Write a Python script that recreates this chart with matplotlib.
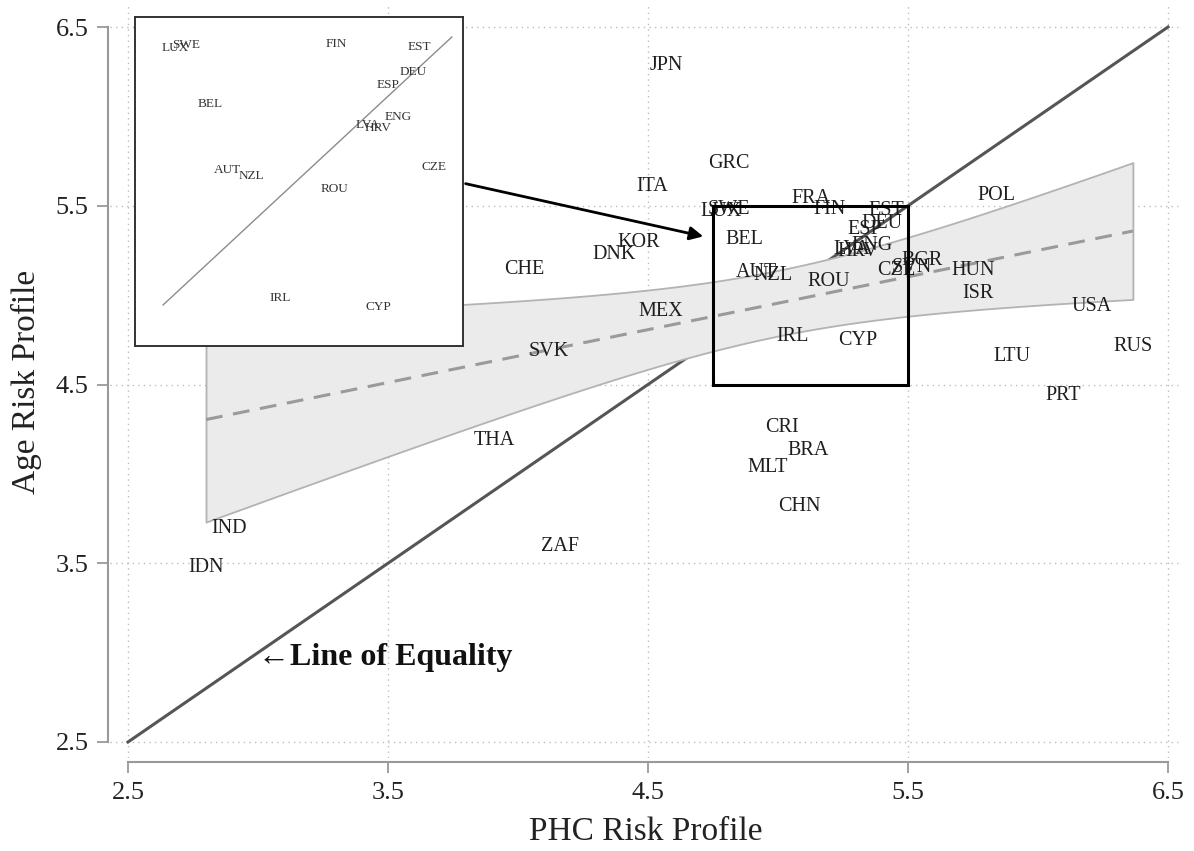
import numpy as np
import matplotlib
matplotlib.use("Agg")
import matplotlib.pyplot as plt
from matplotlib.patches import Rectangle

plt.rcParams['font.family'] = ['Liberation Serif', 'DejaVu Serif']

# country codes and (PHC risk, Age risk)
countries = ["JPN", "GRC", "ITA", "FRA", "FIN", "EST", "LUX", "SWE", "POL", "ESP",
             "DEU", "BEL", "KOR", "DNK", "ENG", "LVA", "HRV", "IRL", "CYP", "AUT",
             "NZL", "ROU", "CZE", "SVN", "BGR", "HUN", "ISR", "USA", "RUS", "LTU",
             "PRT", "CHE", "MEX", "SVK", "THA", "CRI", "BRA", "MLT", "CHN", "ZAF",
             "IND", "IDN"]
phc = [4.569, 4.812, 4.515, 5.127, 5.199, 5.415, 4.781, 4.810, 5.842, 5.334,
       5.399, 4.872, 4.465, 4.369, 5.360, 5.283, 5.308, 5.054, 5.308, 4.916,
       4.979, 5.194, 5.454, 5.515, 5.554, 5.750, 5.770, 6.208, 6.365, 5.900,
       6.096, 4.023, 4.550, 4.119, 3.908, 5.015, 5.115, 4.962, 5.081, 4.162,
       2.888, 2.800]
age = [6.287, 5.734, 5.610, 5.543, 5.480, 5.472, 5.469, 5.478, 5.560, 5.367,
       5.402, 5.313, 5.292, 5.230, 5.276, 5.254, 5.245, 4.770, 4.745, 5.127,
       5.111, 5.074, 5.136, 5.152, 5.191, 5.140, 5.010, 4.934, 4.715, 4.659,
       4.436, 5.146, 4.911, 4.682, 4.184, 4.257, 4.133, 4.038, 3.815, 3.591,
       3.697, 3.479]

ticks = [2.5, 3.5, 4.5, 5.5, 6.5]
zoom_box = (4.75, 5.5, 4.5, 5.5)  # x0, x1, y0, y1

x = np.array(phc)
y = np.array(age)

# linear fit with 95% CI of the mean prediction (like Stata lfitci)
n = len(x)
b, a = np.polyfit(x, y, 1)
resid = y - (a + b * x)
s = np.sqrt(np.sum(resid ** 2) / (n - 2))
sxx = np.sum((x - x.mean()) ** 2)
t = 2.021  # t(0.975, df=40)
xf = np.linspace(x.min(), x.max(), 100)
yf = a + b * xf
half = t * s * np.sqrt(1 / n + (xf - x.mean()) ** 2 / sxx)

fig = plt.figure(figsize=(11.94, 8.51), dpi=100)
ax = fig.add_axes([110 / 1194, 1 - 758 / 851, 1072 / 1194, 753 / 851])

ax.set_xlim(2.5 - 18 / 260, 6.5 + 14 / 260)
ax.set_ylim(2.5 - 16 / 178.75, 6.5 + 22 / 178.75)

ax.set_xticks(ticks)
ax.set_yticks(ticks)
ax.set_xticklabels([str(v) for v in ticks])
ax.set_yticklabels([str(v) for v in ticks])
ax.grid(True, linestyle=(0, (1, 3)), color='#bdbdbd', linewidth=1)
ax.set_axisbelow(True)

for side in ['top', 'right']:
    ax.spines[side].set_visible(False)
ax.spines['left'].set_position(('outward', 1.5))
ax.spines['bottom'].set_position(('outward', 3))
ax.spines['left'].set_bounds(2.5, 6.5)
ax.spines['bottom'].set_bounds(2.5, 6.5)
for side in ['left', 'bottom']:
    ax.spines[side].set_color('#999999')
    ax.spines[side].set_linewidth(1.5)
ax.tick_params(axis='both', length=8, width=1.3, color='#999999',
               labelsize=19, labelcolor='#222222', pad=6)

ax.set_xlabel("PHC Risk Profile", fontsize=24, color='#222222', labelpad=9)
ax.set_ylabel("Age Risk Profile", fontsize=24, color='#222222', labelpad=10)

# line of equality, then the band on top
ax.plot([2.5, 6.5], [2.5, 6.5], color='#555555', lw=2.2, zorder=2)
ax.fill_between(xf, yf - half, yf + half, facecolor='#ebebeb',
                edgecolor='#b3b3b3', lw=1.3, zorder=3)
ax.plot(xf, yf, color='#9a9a9a', lw=2.2, dashes=(5.5, 3.5), zorder=4)

for c, xi, yi in zip(countries, phc, age):
    ax.text(xi, yi, c, fontsize=14.5, ha='center', va='center',
            color='#1e1e1e', zorder=5)

ax.text(3.0, 2.975, "\u2190Line of Equality", fontsize=23, fontweight='bold',
        ha='left', va='center', color='#111111', zorder=5)

x0, x1, y0, y1 = zoom_box
ax.add_patch(Rectangle((x0, y0), x1 - x0, y1 - y0, fill=False,
                       edgecolor='black', lw=2.2, zorder=6))
ax.annotate("", xy=(4.723, 5.325), xytext=(3.788, 5.627),
            arrowprops=dict(arrowstyle='-|>', color='black', lw=2,
                            mutation_scale=20),
            zorder=6)

# zoomed inset of the box
ins = fig.add_axes([135 / 1194, 1 - 346 / 851, 328 / 1194, 329 / 851], zorder=10)
ins.set_facecolor('white')
ins.set_xlim(4.677, 5.529)
ins.set_ylim(4.635, 5.556)
ins.set_xticks([])
ins.set_yticks([])
for sp in ins.spines.values():
    sp.set_color('#333333')
    sp.set_linewidth(1.4)
ins.plot([x0, x1], [x0, x1], color='#8c8c8c', lw=1)
for c, xi, yi in zip(countries, phc, age):
    if x0 <= xi <= x1 and y0 <= yi <= y1:
        ins.text(xi, yi, c, fontsize=9.5, ha='center', va='center', color='#333333')

fig.savefig("out.png", dpi=100)
